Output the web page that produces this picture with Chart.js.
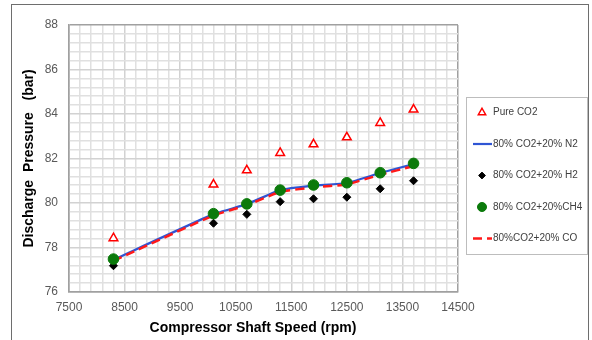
<!DOCTYPE html>
<html>
<head>
<meta charset="utf-8">
<script src="https://cdn.jsdelivr.net/npm/chart.js@4.4.1/dist/chart.umd.min.js"></script>
<style>
  html, body { margin: 0; padding: 0; background: #fff; }
  #wrap { position: relative; width: 592px; height: 340px; overflow: hidden; }
  #frame { position: absolute; left: 11px; top: 4px; width: 578px; height: 345px; border: 1px solid #6e6e6e; box-sizing: border-box; pointer-events: none; }
  canvas { position: absolute; left: 0; top: 0; }
</style>
</head>
<body>
<div id="wrap">
  <canvas id="chart" width="592" height="340"></canvas>
  <div id="frame"></div>
</div>
<script>
// DATA
const speeds  = [8300, 10100, 10700, 11300, 11900, 12500, 13100, 13700];
const pureCO2 = [78.42, 80.83, 81.47, 82.25, 82.64, 82.95, 83.6, 84.2];
const mixN2   = [77.45, 79.5, 79.95, 80.58, 80.78, 80.9, 81.35, 81.75];
const mixH2   = [77.18, 79.09, 79.49, 80.06, 80.19, 80.26, 80.64, 81.0];
const mixCH4  = [77.48, 79.52, 79.96, 80.58, 80.81, 80.91, 81.36, 81.78];
const mixCO   = [77.4, 79.44, 79.9, 80.5, 80.7, 80.84, 81.27, 81.66];
const xTitle = 'Compressor Shaft Speed (rpm)';
const yTitle = 'Discharge  Pressure   (bar)';

const toPts = ys => speeds.map((x, i) => ({ x: x, y: ys[i] }));

const tickFont = { family: 'Liberation Sans', size: 12 };
const titleFont = { family: 'Liberation Sans', size: 14, weight: 'bold' };

// grid: major lines on labelled ticks, edges darker
const gridColor = (ctx) => {
  const n = ctx.scale.ticks.length;
  if (ctx.index === 0 || ctx.index === n - 1) return '#a0a0a0';
  return ctx.tick && ctx.tick.label !== '' ? '#d2d2d2' : '#e0e0e0';
};

// LEGEND (boxed, like the original) + x title a bit left of centre
const boxLegend = {
  id: 'boxLegend',
  afterDraw(chart) {
    const ctx = chart.ctx;
    const bx = 466, by = 97, bw = 121, bh = 157;
    ctx.save();
    ctx.fillStyle = '#000';
    ctx.font = 'bold 14px "Liberation Sans"';
    ctx.textAlign = 'center';
    ctx.textBaseline = 'middle';
    ctx.fillText(xTitle, 253, 328);
    ctx.textAlign = 'left';

    ctx.strokeStyle = '#bdbdbd';
    ctx.lineWidth = 1;
    ctx.strokeRect(bx + 0.5, by + 0.5, bw, bh);
    ctx.font = '10px "Liberation Sans"';
    chart.data.datasets.forEach((ds, i) => {
      const cy = 112.5 + i * 31.5;
      const cx = 482;
      if (ds.showLine) {
        ctx.beginPath();
        ctx.strokeStyle = ds.borderColor;
        ctx.lineWidth = ds.borderWidth;
        ctx.setLineDash(ds.borderDash || []);
        ctx.moveTo(473, cy);
        ctx.lineTo(492, cy);
        ctx.stroke();
        ctx.setLineDash([]);
      } else {
        const r = ds.pointRadius * 0.85;
        ctx.beginPath();
        if (ds.pointStyle === 'triangle') {
          ctx.moveTo(cx, cy - r);
          ctx.lineTo(cx + r * 0.866, cy + r * 0.5);
          ctx.lineTo(cx - r * 0.866, cy + r * 0.5);
          ctx.closePath();
        } else if (ds.pointStyle === 'rectRot') {
          ctx.moveTo(cx, cy - r);
          ctx.lineTo(cx + r, cy);
          ctx.lineTo(cx, cy + r);
          ctx.lineTo(cx - r, cy);
          ctx.closePath();
        } else {
          ctx.arc(cx, cy, r, 0, Math.PI * 2);
        }
        ctx.fillStyle = ds.backgroundColor;
        ctx.fill();
        ctx.strokeStyle = ds.borderColor;
        ctx.lineWidth = ds.pointBorderWidth || 1;
        ctx.stroke();
      }
      ctx.fillStyle = '#404040';
      ctx.fillText(ds.label, 493, cy);
    });
    ctx.restore();
  }
};

new Chart(document.getElementById('chart').getContext('2d'), {
  type: 'scatter',
  data: {
    datasets: [
      { label: 'Pure CO2', data: toPts(pureCO2), showLine: false, pointStyle: 'triangle', pointRadius: 5,
        borderColor: '#ff0000', backgroundColor: '#ffffff', pointBorderWidth: 1.5, order: 1 },
      { label: '80% CO2+20% N2', data: toPts(mixN2), showLine: true, borderColor: '#2f55d4', borderWidth: 2.2,
        pointRadius: 0, tension: 0.15, order: 4 },
      { label: '80% CO2+20% H2', data: toPts(mixH2), showLine: false, pointStyle: 'rectRot', pointRadius: 4,
        borderColor: '#000000', backgroundColor: '#000000', pointBorderWidth: 1, order: 2 },
      { label: '80% CO2+20%CH4', data: toPts(mixCH4), showLine: false, pointStyle: 'circle', pointRadius: 5.3,
        borderColor: '#0b7a0b', backgroundColor: '#0b7a0b', pointBorderWidth: 1, order: 0 },
      { label: '80%CO2+20% CO', data: toPts(mixCO), showLine: true, borderColor: '#ff1a1a', borderWidth: 2.5,
        borderDash: [9, 5], pointRadius: 0, tension: 0.15, order: 3 }
    ]
  },
  options: {
    responsive: false,
    animation: false,
    events: [],
    layout: { padding: { left: 0, right: 134, top: 25, bottom: 0 } },
    plugins: { legend: { display: false }, tooltip: { enabled: false } },
    scales: {
      x: {
        type: 'linear', min: 7500, max: 14500,
        afterFit: (s) => { s.height = 48; },
        ticks: {
          stepSize: 200, autoSkip: false, maxRotation: 0, padding: 8, color: '#595959', font: tickFont,
          callback: (v) => ((v - 7500) % 1000 === 0 ? String(v) : '')
        },
        grid: { color: gridColor, lineWidth: 1.5, drawTicks: false },
        border: { color: '#a0a0a0', width: 1.5 },
        title: { display: false }
      },
      y: {
        min: 76, max: 88,
        afterFit: (s) => { s.width = 69; },
        ticks: {
          stepSize: 0.4, autoSkip: false, padding: 11, color: '#595959', font: tickFont,
          callback: (v) => (Math.abs(v / 2 - Math.round(v / 2)) < 1e-6 ? String(Math.round(v)) : '')
        },
        grid: { color: gridColor, lineWidth: 1.5, drawTicks: false },
        border: { color: '#a0a0a0', width: 1.5 },
        title: { display: true, text: yTitle, color: '#000', font: titleFont,
                 padding: { top: 21, bottom: 0 } }
      }
    }
  },
  plugins: [boxLegend]
});
</script>
</body>
</html>
